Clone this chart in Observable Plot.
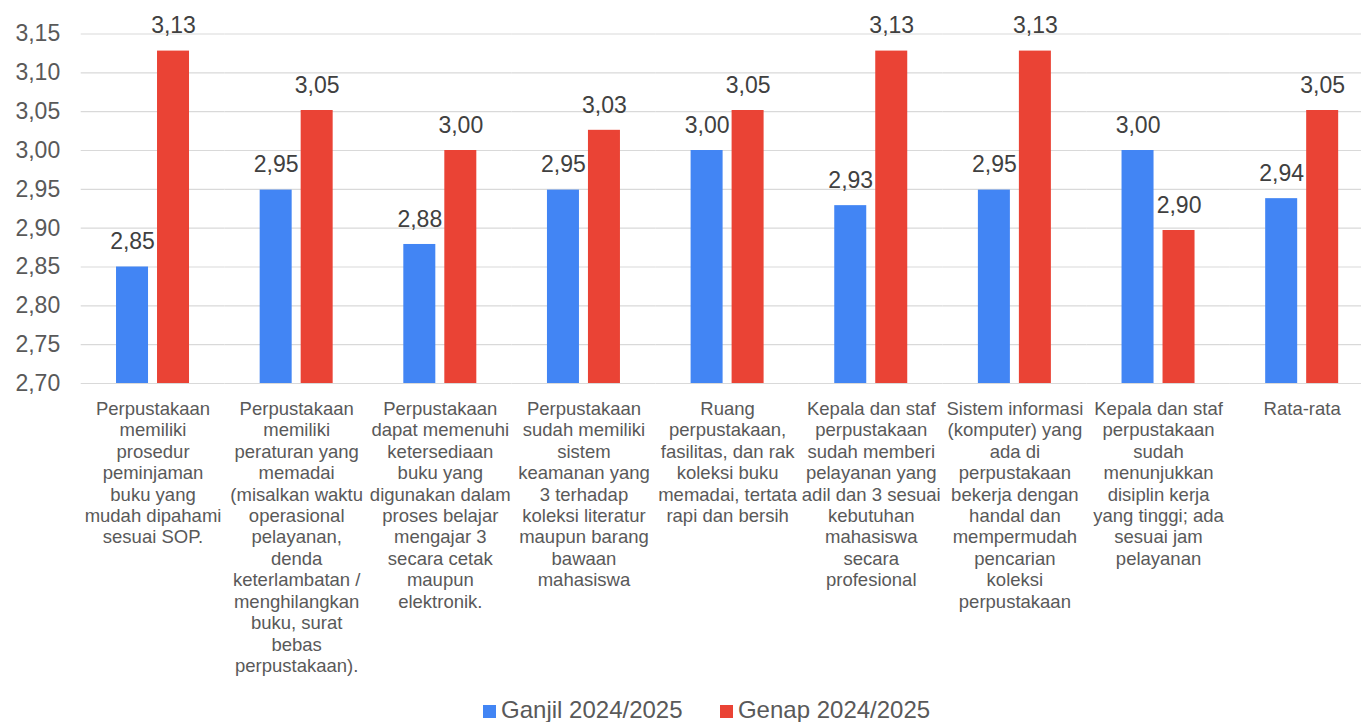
<!DOCTYPE html>
<html><head><meta charset="utf-8">
<script src="https://cdn.jsdelivr.net/npm/d3@7"></script>
<script src="https://cdn.jsdelivr.net/npm/@observablehq/plot@0.6"></script>
<style>
html,body{margin:0;padding:0;background:#fff;overflow:hidden;width:1361px;height:722px}
#chart{position:absolute;left:0;top:0}
#legend{position:absolute;left:482.7px;top:698px;font:24px "Liberation Sans",Arial,sans-serif;color:#595959;line-height:24px;white-space:nowrap}
.sw{display:inline-block;width:13px;height:13px;margin-right:5.4px;vertical-align:baseline}
.gap{display:inline-block;width:37px}
</style></head>
<body>
<div id="chart"></div>
<div id="legend"></div>
<script>
const categories = [
  "Perpustakaan\nmemiliki\nprosedur\npeminjaman\nbuku yang\nmudah dipahami\nsesuai SOP.",
  "Perpustakaan\nmemiliki\nperaturan yang\nmemadai\n(misalkan waktu\noperasional\npelayanan,\ndenda\nketerlambatan /\nmenghilangkan\nbuku, surat\nbebas\nperpustakaan).",
  "Perpustakaan\ndapat memenuhi\nketersediaan\nbuku yang\ndigunakan dalam\nproses belajar\nmengajar 3\nsecara cetak\nmaupun\nelektronik.",
  "Perpustakaan\nsudah memiliki\nsistem\nkeamanan yang\n3 terhadap\nkoleksi literatur\nmaupun barang\nbawaan\nmahasiswa",
  "Ruang\nperpustakaan,\nfasilitas, dan rak\nkoleksi buku\nmemadai, tertata\nrapi dan bersih",
  "Kepala dan staf\nperpustakaan\nsudah memberi\npelayanan yang\nadil dan 3 sesuai\nkebutuhan\nmahasiswa\nsecara\nprofesional",
  "Sistem informasi\n(komputer) yang\nada di\nperpustakaan\nbekerja dengan\nhandal dan\nmempermudah\npencarian\nkoleksi\nperpustakaan",
  "Kepala dan staf\nperpustakaan\nsudah\nmenunjukkan\ndisiplin kerja\nyang tinggi; ada\nsesuai jam\npelayanan",
  "Rata-rata"
];
const series = ["Ganjil 2024/2025", "Genap 2024/2025"];
const ganjil = [2.85, 2.949, 2.879, 2.949, 3.0, 2.929, 2.949, 3.0, 2.938];
const genap = [3.128, 3.0515, 3.0, 3.026, 3.0515, 3.128, 3.128, 2.897, 3.0515];
const yTicks = [2.70, 2.75, 2.80, 2.85, 2.90, 2.95, 3.00, 3.05, 3.10, 3.15];
const colors = ["#4285F4", "#EA4335"];

const data = categories.flatMap((c, i) => [
  {cat: c, s: series[0], v: ganjil[i]},
  {cat: c, s: series[1], v: genap[i]}
]);
const fmt = v => d3.format(".2f")(v).replace(".", ",");

const chart = Plot.plot({
  width: 1361,
  height: 695,
  marginLeft: 80.7,
  marginRight: -12.5,
  marginTop: 33.5,
  marginBottom: 312,
  style: {fontFamily: '"Liberation Sans", Arial, sans-serif', background: "#fff"},
  fx: {domain: categories, padding: 0, round: false, label: null},
  x: {domain: series, axis: null, round: false, paddingInner: 0.2195, paddingOuter: 0.8616},
  y: {domain: [2.70, 3.15], label: null},
  color: {domain: series, range: colors},
  marks: [
    Plot.ruleY(yTicks, {stroke: "#d9d9d9", strokeWidth: 1.2}),
    Plot.barY(data, {fx: "cat", x: "s", y1: 2.70, y2: "v", fill: "s"}),
    Plot.text(data, {fx: "cat", x: "s", y: "v", text: d => fmt(d.v), dy: -25, fontSize: 23, fill: "#404040"}),
    Plot.axisY({ticks: yTicks, tickFormat: fmt, tickSize: 0, tickPadding: 21, fontSize: 23, fill: "#595959", label: null}),
    Plot.axisFx({anchor: "bottom", tickSize: 0, tickPadding: 16, lineAnchor: "top", fontSize: 18.5, lineHeight: 1.16, fill: "#595959", label: null})
  ]
});
document.getElementById("chart").appendChild(chart);

const legend = document.getElementById("legend");
series.forEach((s, i) => {
  if (i > 0) { const g = document.createElement("span"); g.className = "gap"; legend.appendChild(g); }
  const sw = document.createElement("span");
  sw.className = "sw";
  sw.style.background = colors[i];
  legend.appendChild(sw);
  legend.appendChild(document.createTextNode(s));
});
</script>
</body></html>
